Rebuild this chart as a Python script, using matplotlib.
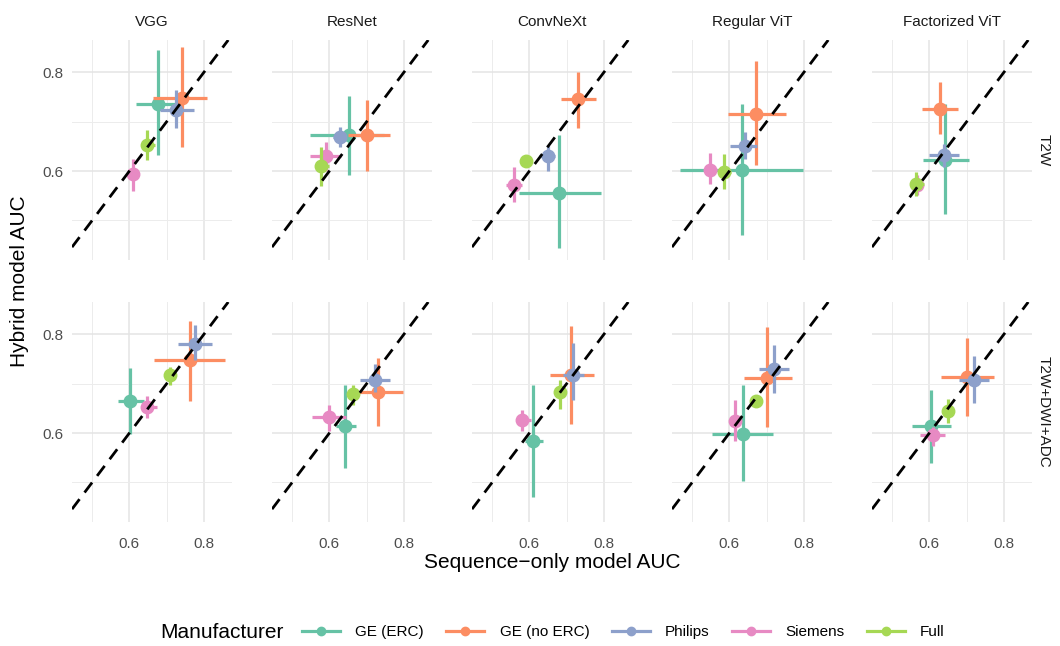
import numpy as np
import matplotlib
matplotlib.use("Agg")
import matplotlib.pyplot as plt
from matplotlib.lines import Line2D

plt.rcParams['font.family'] = ['Liberation Sans', 'DejaVu Sans']

models = ['VGG', 'ResNet', 'ConvNeXt', 'Regular ViT', 'Factorized ViT']
sequences = ['T2W', 'T2W+DWI+ADC']
manufacturers = ['GE (ERC)', 'GE (no ERC)', 'Philips', 'Siemens', 'Full']
colors = ['#66C2A5', '#FC8D62', '#8DA0CB', '#E78AC3', '#A6D854']

# [row][model][manufacturer]
seq_auc = [
    [[.677, .740, .724, .609, .647], [.653, .702, .627, .591, .578], [.678, .730, .649, .558, .592],
     [.634, .672, .641, .549, .585], [.643, .627, .639, .567, .565]],
    [[.602, .762, .776, .648, .710], [.642, .729, .723, .600, .662], [.609, .711, .716, .580, .681],
     [.636, .700, .720, .616, .672], [.603, .700, .719, .610, .649]],
]
seq_lo = [
    [[.618, .663, .681, .595, .632], [.549, .649, .609, .549, .565], [.572, .684, .625, .536, .576],
     [.468, .596, .601, .536, .569], [.582, .580, .598, .555, .549]],
    [[.570, .667, .731, .633, .696], [.618, .662, .683, .554, .652], [.587, .654, .691, .563, .665],
     [.552, .640, .678, .603, .666], [.552, .630, .680, .574, .640]],
]
seq_hi = [
    [[.731, .807, .774, .623, .668], [.745, .763, .644, .631, .598], [.791, .778, .669, .580, .607],
     [.798, .751, .674, .567, .603], [.706, .677, .679, .580, .585]],
    [[.638, .857, .822, .674, .724], [.671, .796, .763, .644, .672], [.636, .772, .745, .603, .697],
     [.718, .767, .760, .629, .678], [.658, .773, .760, .643, .658]],
]
hyb_auc = [
    [[.736, .748, .724, .593, .652], [.672, .672, .669, .630, .610], [.556, .745, .630, .572, .620],
     [.603, .716, .650, .603, .598], [.623, .726, .632, .572, .574]],
    [[.664, .748, .780, .652, .717], [.615, .682, .707, .632, .678], [.583, .717, .717, .627, .683],
     [.599, .712, .729, .625, .665], [.615, .714, .707, .596, .644]],
]
hyb_lo = [
    [[.632, .648, .686, .560, .622], [.591, .601, .648, .601, .570], [.445, .688, .601, .537, .608],
     [.470, .613, .625, .573, .564], [.514, .674, .608, .552, .550]],
    [[.598, .664, .748, .630, .697], [.530, .615, .683, .605, .657], [.471, .618, .666, .605, .648],
     [.503, .612, .680, .584, .660], [.540, .634, .661, .574, .620]],
]
hyb_hi = [
    [[.844, .850, .763, .625, .682], [.751, .743, .689, .659, .648], [.672, .800, .652, .608, .632],
     [.736, .822, .679, .636, .634], [.736, .780, .655, .592, .598]],
    [[.732, .827, .819, .675, .734], [.697, .751, .739, .656, .697], [.697, .817, .782, .647, .707],
     [.697, .814, .778, .666, .670], [.686, .793, .756, .612, .668]],
]

W, H = 1060, 646
fig = plt.figure(figsize=(W / 100, H / 100), dpi=100)

panel_w, panel_h = 160, 220
lefts = [72, 272, 472, 672, 872]
tops = [40, 302]
xlim = (0.446, 0.875)
ylim = (0.42, 0.865)

for r in range(2):
    for c in range(5):
        ax = fig.add_axes([lefts[c] / W, 1 - (tops[r] + panel_h) / H, panel_w / W, panel_h / H])
        ax.set_xlim(xlim)
        ax.set_ylim(ylim)
        for s in ax.spines.values():
            s.set_visible(False)
        ax.set_xticks([0.6, 0.8])
        ax.set_yticks([0.6, 0.8])
        ax.set_xticks([0.5, 0.7], minor=True)
        ax.set_yticks([0.5, 0.7], minor=True)
        ax.grid(True, which='major', color='#e4e4e4', lw=1.1)
        ax.grid(True, which='minor', color='#ececec', lw=0.7)
        ax.set_axisbelow(True)
        ax.tick_params(which='both', length=0, labelsize=11, labelcolor='#4d4d4d', pad=6)
        if c > 0:
            ax.set_yticklabels([])
        else:
            ax.set_yticklabels(['0.6', '0.8'])
        if r == 0:
            ax.set_xticklabels([])
            ax.set_title(models[c], fontsize=11, color='#1a1a1a', pad=10)
        else:
            ax.set_xticklabels(['0.6', '0.8'])
            ax.tick_params(axis='x', pad=11)
        for m in range(5):
            x = seq_auc[r][c][m]
            y = hyb_auc[r][c][m]
            ax.errorbar([x], [y],
                        xerr=[[x - seq_lo[r][c][m]], [seq_hi[r][c][m] - x]],
                        yerr=[[y - hyb_lo[r][c][m]], [hyb_hi[r][c][m] - y]],
                        fmt='o', color=colors[m], ms=9, elinewidth=2.3, capsize=0,
                        zorder=3 + m)
        ax.axline((0.5, 0.5), slope=1, color='black', lw=2.0, ls=(0, (4.5, 3.0)),
                  zorder=10)
        if c == 4:
            ax.text(1.07, 0.5, sequences[r], transform=ax.transAxes, rotation=-90,
                    ha='center', va='center', fontsize=11, color='#1a1a1a')

fig.text(20 / W, 1 - 281 / H, 'Hybrid model AUC', rotation=90, ha='center', va='center', fontsize=15)
fig.text(552 / W, 1 - 563 / H, 'Sequence\u2212only model AUC', ha='center', va='center', fontsize=15)

fig.text(160 / W, 1 - 632 / H, 'Manufacturer', ha='left', va='center', fontsize=15)
handles = [Line2D([], [], color=col, lw=2.3, marker='o', ms=6) for col in colors]
fig.legend(handles, manufacturers, loc='center left', bbox_to_anchor=(302 / W, 1 - 632 / H),
           ncol=5, frameon=False, fontsize=11, handlelength=2.5, handletextpad=1.0,
           columnspacing=1.45, borderpad=0, borderaxespad=0)

fig.savefig('out.png', dpi=100)
